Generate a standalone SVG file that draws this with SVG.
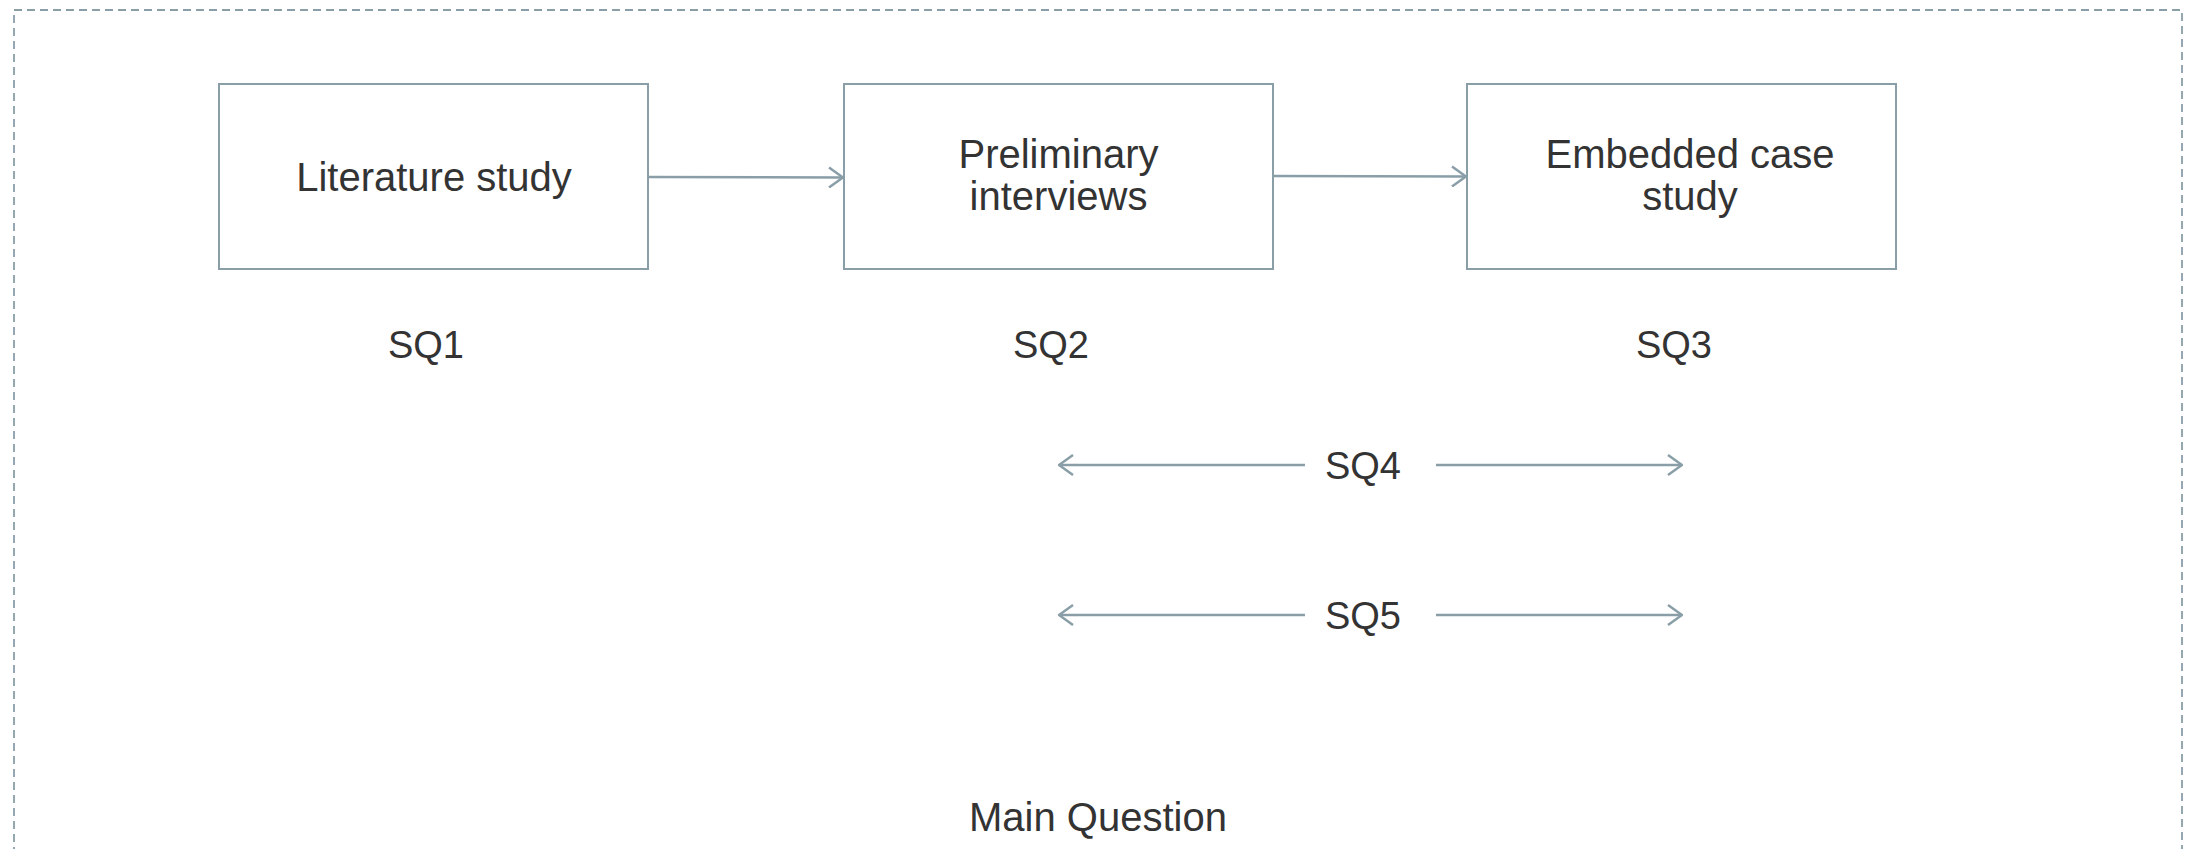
<svg xmlns="http://www.w3.org/2000/svg" width="2191" height="849" viewBox="0 0 2191 849">
  <style>
    .frame { fill: none; stroke: #8a9ea8; stroke-width: 1.8; stroke-dasharray: 8 5; }
    .box { fill: #ffffff; stroke: #8a9ea8; stroke-width: 2; }
    .link { fill: none; stroke: #8a9ea8; stroke-width: 2.5; }
    .label { font-family: "Liberation Sans", Arial, sans-serif; font-size: 40px; fill: #333333; text-anchor: middle; }
    .sq { font-family: "Liberation Sans", Arial, sans-serif; font-size: 38px; fill: #333333; text-anchor: middle; }
  </style>
  <defs>
    <marker id="chevron" viewBox="0 0 16 22" refX="15" refY="11" markerWidth="16" markerHeight="22" markerUnits="userSpaceOnUse" orient="auto-start-reverse">
      <path d="M1,1 L15,11 L1,21" fill="none" stroke="#8a9ea8" stroke-width="2.5"/>
    </marker>
  </defs>

  <rect width="2191" height="849" fill="#ffffff"/>

  <!-- outer dashed frame (open at the bottom edge) -->
  <rect class="frame" x="14" y="10" width="2168" height="900"/>

  <g id="node-literature">
    <rect class="box" x="219" y="84" width="429" height="185"/>
    <text class="label" x="434" y="191">Literature study</text>
  </g>

  <g id="node-interviews">
    <rect class="box" x="844" y="84" width="429" height="185"/>
    <text class="label" x="1058.5" y="168">Preliminary</text>
    <text class="label" x="1058.5" y="210">interviews</text>
  </g>

  <g id="node-casestudy">
    <rect class="box" x="1467" y="84" width="429" height="185"/>
    <text class="label" x="1690" y="168">Embedded case</text>
    <text class="label" x="1690" y="210">study</text>
  </g>

  <g id="labels">
    <text class="sq" x="426" y="358">SQ1</text>
    <text class="sq" x="1051" y="358">SQ2</text>
    <text class="sq" x="1674" y="358">SQ3</text>
    <text class="sq" x="1363" y="479">SQ4</text>
    <text class="sq" x="1363" y="629">SQ5</text>
    <text class="label" x="1098" y="831">Main Question</text>
  </g>

  <g id="connectors">
    <line class="link" x1="648" y1="177" x2="843" y2="177.5" marker-end="url(#chevron)"/>
    <line class="link" x1="1273" y1="176" x2="1466" y2="176.5" marker-end="url(#chevron)"/>
    <line class="link" x1="1059" y1="465" x2="1305" y2="465" marker-start="url(#chevron)"/>
    <line class="link" x1="1436" y1="465" x2="1682" y2="465" marker-end="url(#chevron)"/>
    <line class="link" x1="1059" y1="615" x2="1305" y2="615" marker-start="url(#chevron)"/>
    <line class="link" x1="1436" y1="615" x2="1682" y2="615" marker-end="url(#chevron)"/>
  </g>
</svg>
